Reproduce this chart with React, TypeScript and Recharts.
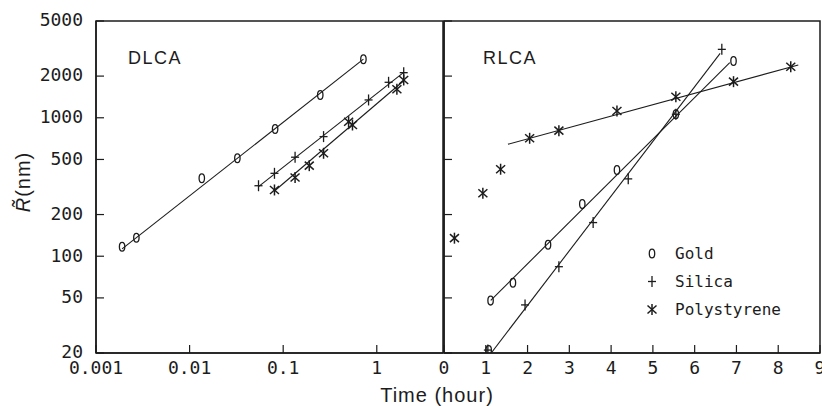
import React from 'react';
import { ScatterChart, Scatter, XAxis, YAxis, ReferenceArea } from 'recharts';

// ---------- data ----------
const yTicks = [20, 50, 100, 200, 500, 1000, 2000, 5000];
const leftXTicks = [0.001, 0.01, 0.1, 1];
const rightXTicks = [0, 1, 2, 3, 4, 5, 6, 7, 8, 9];

const dlcaGold = [
  { x: 0.0019, y: 117 }, { x: 0.0027, y: 136 }, { x: 0.0135, y: 366 }, { x: 0.0324, y: 510 },
  { x: 0.082, y: 830 }, { x: 0.249, y: 1462 }, { x: 0.72, y: 2644 },
];
const dlcaSilica = [
  { x: 0.0545, y: 323 }, { x: 0.0807, y: 397 }, { x: 0.134, y: 519 }, { x: 0.27, y: 731 },
  { x: 0.817, y: 1345 }, { x: 1.337, y: 1804 }, { x: 1.94, y: 2117 },
];
const dlcaPoly = [
  { x: 0.0807, y: 301 }, { x: 0.134, y: 370 }, { x: 0.19, y: 451 }, { x: 0.27, y: 554 },
  { x: 0.5, y: 937 }, { x: 0.55, y: 887 }, { x: 1.64, y: 1606 }, { x: 1.94, y: 1875 },
];
const dlcaGoldFit = [{ x: 0.0019, y: 113 }, { x: 0.72, y: 2650 }];
const dlcaSilicaFit = [{ x: 0.0545, y: 318 }, { x: 1.94, y: 2130 }];
const dlcaPolyFit = [{ x: 0.0807, y: 296 }, { x: 1.94, y: 1850 }];

const rlcaGold = [
  { x: 1.07, y: 21 }, { x: 1.115, y: 47.8 }, { x: 1.65, y: 64.4 }, { x: 2.49, y: 121 }, { x: 3.31, y: 238 },
  { x: 4.14, y: 420 }, { x: 5.55, y: 1060 }, { x: 6.93, y: 2570 },
];
const rlcaSilica = [
  { x: 1.05, y: 21 }, { x: 1.94, y: 44.5 }, { x: 2.75, y: 84 }, { x: 3.57, y: 175 },
  { x: 4.41, y: 362 }, { x: 5.55, y: 1060 }, { x: 6.65, y: 3120 },
];
const rlcaPoly = [
  { x: 0.25, y: 135 }, { x: 0.93, y: 285 }, { x: 1.355, y: 425 }, { x: 2.05, y: 711 },
  { x: 2.75, y: 807 }, { x: 4.14, y: 1119 }, { x: 5.55, y: 1420 }, { x: 6.93, y: 1823 }, { x: 8.3, y: 2338 },
];
const rlcaGoldFit = [{ x: 1.12, y: 48 }, { x: 6.84, y: 2500 }];
const rlcaSilicaFit = [{ x: 1.13, y: 20 }, { x: 6.61, y: 2920 }];
const rlcaPolyFit = [{ x: 1.53, y: 644 }, { x: 8.48, y: 2405 }];

const legendItems = ['Gold', 'Silica', 'Polystyrene'];

// ---------- styles ----------
const INK = '#1c1c1c';
const MONO = '"DejaVu Sans Mono", monospace';
const SANS = '"Liberation Sans", Arial, sans-serif';

const GoldMark = ({ cx, cy }: any) =>
  cx == null ? <g /> : <ellipse cx={cx} cy={cy} rx={2.7} ry={4.4} fill="none" stroke={INK} strokeWidth={1.3} />;
const SilicaMark = ({ cx, cy }: any) =>
  cx == null ? <g /> : (
    <g stroke={INK} strokeWidth={1.3}>
      <line x1={cx - 4} x2={cx + 4} y1={cy} y2={cy} />
      <line x1={cx} x2={cx} y1={cy - 5.5} y2={cy + 5.5} />
    </g>
  );
const PolyMark = ({ cx, cy }: any) =>
  cx == null ? <g /> : (
    <g stroke={INK} strokeWidth={1.5}>
      <line x1={cx} x2={cx} y1={cy - 5.5} y2={cy + 5.5} />
      <line x1={cx - 4.5} x2={cx + 4.5} y1={cy - 4} y2={cy + 4} />
      <line x1={cx - 4.5} x2={cx + 4.5} y1={cy + 4} y2={cy - 4} />
    </g>
  );
const NoMark = () => <g />;

const YTickLabeled = (props: any) => {
  const { x, y, payload } = props;
  return (
    <g>
      <line x1={x + 13} x2={x + 21} y1={y} y2={y} stroke={INK} strokeWidth={1.2} />
      <text x={x} y={y} dy="0.3em" textAnchor="end" fontFamily={MONO} fontSize={18} fill={INK}>
        {payload.value}
      </text>
    </g>
  );
};
const YTickBare = (props: any) => {
  const { x, y } = props;
  return <line x1={x} x2={x + 8} y1={y} y2={y} stroke={INK} strokeWidth={1.2} />;
};
const XTick = (props: any) => {
  const { x, y, payload } = props;
  return (
    <g>
      <line x1={x} x2={x} y1={y - 8} y2={y - 16} stroke={INK} strokeWidth={1.2} />
      <text x={x} y={y} dy="0.71em" textAnchor="middle" fontFamily={MONO} fontSize={18} fill={INK}>
        {String(payload.value)}
      </text>
    </g>
  );
};

const fitLine = { stroke: INK, strokeWidth: 1.1 };

export default function App() {
  return (
    <div style={{ position: 'absolute', left: 0, top: 0, width: 822, height: 406, background: '#fff' }}>
      <div style={{ position: 'absolute', left: 0, top: 0 }}>
        <ScatterChart width={444} height={406} margin={{ top: 21, right: 1, bottom: 13, left: 0 }}>
          <XAxis
            type="number" dataKey="x" scale="log" domain={[0.001, 5.1]} allowDataOverflow
            ticks={leftXTicks} interval={0} height={40} tickSize={0} tickLine={false} tickMargin={8}
            tick={<XTick />} axisLine={{ stroke: INK, strokeWidth: 1.5 }}
          />
          <YAxis
            type="number" dataKey="y" scale="log" domain={[20, 5000]} allowDataOverflow
            ticks={yTicks} interval={0} width={96} tickSize={0} tickLine={false} tickMargin={13}
            tick={<YTickLabeled />} axisLine={{ stroke: INK, strokeWidth: 1.5 }}
          />
          <ReferenceArea x1={0.001} x2={5.1} y1={20} y2={5000} fill="none" stroke={INK} strokeWidth={1.5} ifOverflow="visible" />
          <Scatter data={dlcaGoldFit} line={fitLine} shape={<NoMark />} isAnimationActive={false} />
          <Scatter data={dlcaSilicaFit} line={fitLine} shape={<NoMark />} isAnimationActive={false} />
          <Scatter data={dlcaPolyFit} line={fitLine} shape={<NoMark />} isAnimationActive={false} />
          <Scatter data={dlcaGold} shape={<GoldMark />} isAnimationActive={false} />
          <Scatter data={dlcaSilica} shape={<SilicaMark />} isAnimationActive={false} />
          <Scatter data={dlcaPoly} shape={<PolyMark />} isAnimationActive={false} />
        </ScatterChart>
      </div>
      <div style={{ position: 'absolute', left: 424, top: 0 }}>
        <ScatterChart width={398} height={406} margin={{ top: 21, right: 2, bottom: 13, left: 0 }}>
          <XAxis
            type="number" dataKey="x" domain={[0, 9]} allowDataOverflow
            ticks={rightXTicks} interval={0} height={40} tickSize={0} tickLine={false} tickMargin={8}
            tick={<XTick />} axisLine={{ stroke: INK, strokeWidth: 1.5 }}
          />
          <YAxis
            type="number" dataKey="y" scale="log" domain={[20, 5000]} allowDataOverflow
            ticks={yTicks} interval={0} width={20} tickSize={0} tickLine={false} tickMargin={0}
            tick={<YTickBare />} axisLine={{ stroke: INK, strokeWidth: 1.5 }}
          />
          <ReferenceArea x1={0} x2={9} y1={20} y2={5000} fill="none" stroke={INK} strokeWidth={1.5} ifOverflow="visible" />
          <Scatter data={rlcaGoldFit} line={fitLine} shape={<NoMark />} isAnimationActive={false} />
          <Scatter data={rlcaSilicaFit} line={fitLine} shape={<NoMark />} isAnimationActive={false} />
          <Scatter data={rlcaPolyFit} line={fitLine} shape={<NoMark />} isAnimationActive={false} />
          <Scatter data={rlcaGold} shape={<GoldMark />} isAnimationActive={false} />
          <Scatter data={rlcaSilica} shape={<SilicaMark />} isAnimationActive={false} />
          <Scatter data={rlcaPoly} shape={<PolyMark />} isAnimationActive={false} />
        </ScatterChart>
      </div>
      <svg width={822} height={406} style={{ position: 'absolute', left: 0, top: 0, pointerEvents: 'none' }}>
        <text x={128} y={64} fontFamily={SANS} fontSize={18} letterSpacing={1.5} fill={INK}>DLCA</text>
        <text x={483} y={64} fontFamily={SANS} fontSize={18} letterSpacing={1.5} fill={INK}>RLCA</text>
        <text x={437} y={402} textAnchor="middle" fontFamily={SANS} fontSize={20} letterSpacing={1} fill={INK}>Time (hour)</text>
        <text transform="translate(30,182) rotate(-90)" textAnchor="middle" fontFamily={SANS} fontSize={20} letterSpacing={1} fill={INK}>
          <tspan fontStyle="italic">R&#x0303;</tspan>(nm)
        </text>
        {legendItems.map((name, i) => {
          const base = 259 + i * 28;
          const cy = base - 5.5;
          const Mark = i === 0 ? GoldMark : i === 1 ? SilicaMark : PolyMark;
          return (
            <g key={name}>
              <Mark cx={652} cy={cy} />
              <text x={675} y={base} fontFamily={MONO} fontSize={16} fill={INK}>{name}</text>
            </g>
          );
        })}
      </svg>
    </div>
  );
}
